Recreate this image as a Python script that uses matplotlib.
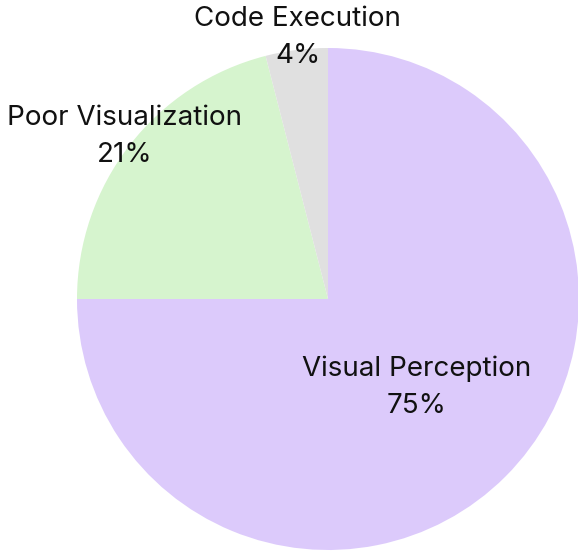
import numpy as np
import matplotlib.pyplot as plt

labels = ["Visual Perception", "Poor Visualization", "Code Execution"]
shares = [75, 21, 4]
colors = ["#dccafb", "#d6f4ce", "#e0e0e0"]
# label placement: fraction of radius, angle nudge (deg)
label_dist = [0.5, 1.035, 1.05]
label_nudge = [0, -0.8, -0.6]

fig = plt.figure(figsize=(5.78, 5.51), dpi=100)
ax = fig.add_axes([0, 0, 1, 1])
r_px = 251
cx, cy = 328, 551 - 299

wedges, _ = ax.pie(shares, colors=colors, startangle=90, counterclock=False,
                   radius=1, frame=True)
ax.set_aspect("equal")
ax.set_xlim(-cx / r_px, (578 - cx) / r_px)
ax.set_ylim(-cy / r_px, (551 - cy) / r_px)
ax.axis("off")

for w, lab, v, d, nud in zip(wedges, labels, shares, label_dist, label_nudge):
    mid = np.deg2rad((w.theta1 + w.theta2) / 2 + nud)
    ax.text(d * np.cos(mid), d * np.sin(mid), f"{lab}\n{v}%", ha="center", va="center",
            fontsize=20, family="Inter", linespacing=1.55, color="#111111")

fig.savefig("out.png", dpi=100)
